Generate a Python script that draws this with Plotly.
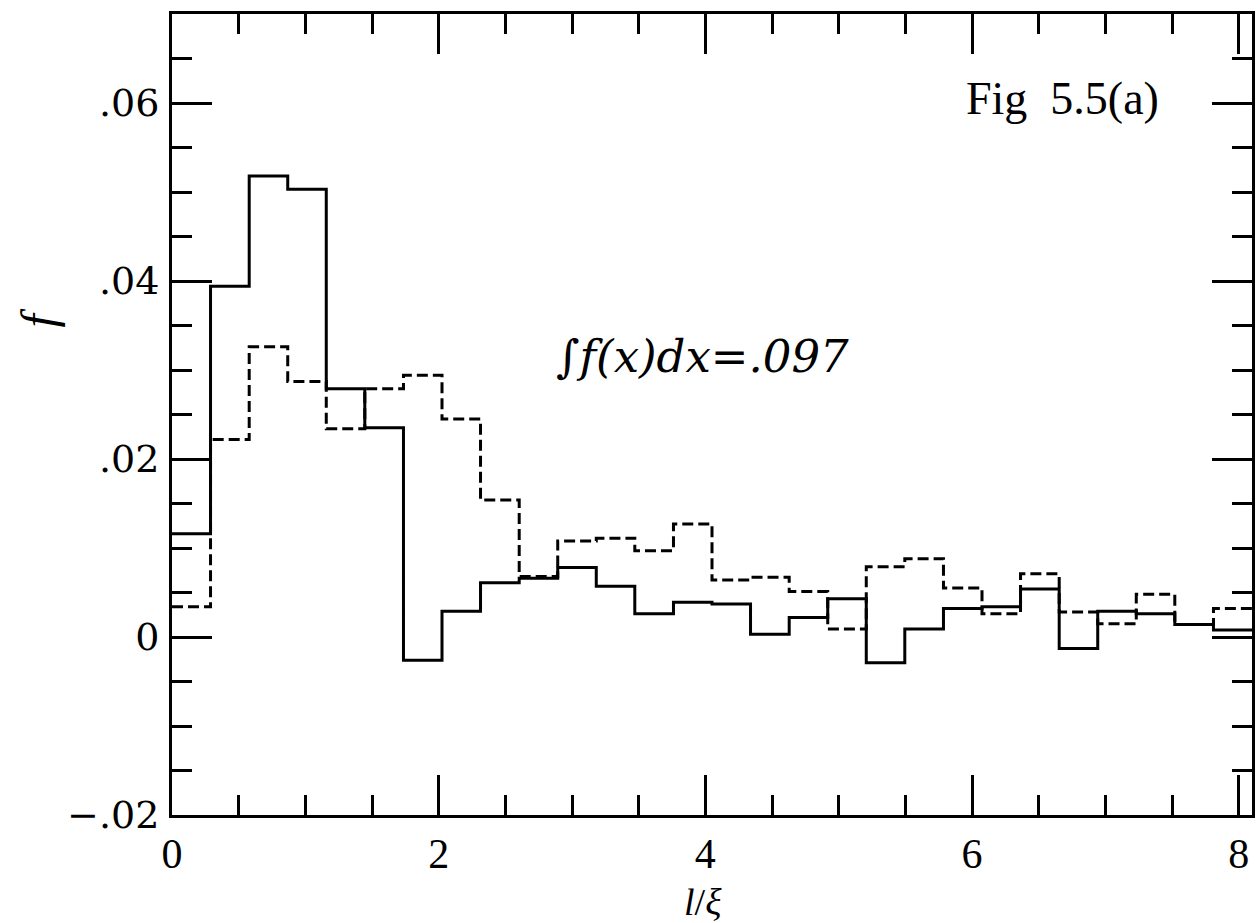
import plotly.graph_objects as go

# Bin edges in l/xi (28 bins)
bin_edges = [0.0, 0.289, 0.579, 0.868, 1.157, 1.446, 1.736, 2.025, 2.314, 2.604,
             2.893, 3.182, 3.471, 3.761, 4.050, 4.339, 4.629, 4.918, 5.207, 5.496,
             5.786, 6.075, 6.364, 6.654, 6.943, 7.232, 7.521, 7.811, 8.100]

# Solid histogram
solid_f = [0.0116, 0.0394, 0.0518, 0.0503, 0.0279, 0.0235, -0.0026, 0.0029, 0.0061, 0.0066,
           0.0078, 0.0057, 0.0026, 0.0039, 0.0037, 0.0003, 0.0022, 0.0043, -0.0029, 0.0009,
           0.0032, 0.0034, 0.0054, -0.0013, 0.0029, 0.0026, 0.0014, 0.0008]

# Dashed histogram
dashed_f = [0.0034, 0.0222, 0.0326, 0.0287, 0.0234, 0.0279, 0.0294, 0.0245, 0.0154, 0.0068,
            0.0108, 0.0111, 0.0097, 0.0127, 0.0064, 0.0067, 0.0051, 0.0009, 0.0079, 0.0088,
            0.0055, 0.0026, 0.0071, 0.0028, 0.0015, 0.0048, 0.0014, 0.0032]

x_tickvals = [0, 2, 4, 6, 8]
x_ticktext = ["0", "2", "4", "6", "8"]
y_tickvals = [-0.02, 0, 0.02, 0.04, 0.06]
y_ticktext = ["\u2212.02", "0", ".02", ".04", ".06"]

fig = go.Figure()
fig.add_trace(go.Scatter(
    x=bin_edges, y=dashed_f + [dashed_f[-1]], mode="lines", line_shape="hv",
    line=dict(color="black", width=3, dash="11px,5px"), showlegend=False))
fig.add_trace(go.Scatter(
    x=bin_edges, y=solid_f + [solid_f[-1]], mode="lines", line_shape="hv",
    line=dict(color="black", width=3), showlegend=False))

axis_common = dict(showline=True, linecolor="black", linewidth=3, mirror="ticks",
                   ticks="inside", tickcolor="black", tickwidth=2.5, ticklen=40,
                   showgrid=False, zeroline=False, automargin=False)

fig.update_xaxes(range=[0, 8.1], tickvals=x_tickvals, ticktext=x_ticktext,
                 tickfont=dict(family="Liberation Serif", size=42, color="black"),
                 ticklabelstandoff=0,
                 minor=dict(ticks="inside", dtick=0.5, tick0=0, ticklen=20,
                            tickwidth=2.5, tickcolor="black", showgrid=False),
                 **axis_common)
fig.update_yaxes(range=[-0.02, 0.07], tickvals=y_tickvals, ticktext=y_ticktext,
                 tickfont=dict(family="DejaVu Serif", size=38, color="black"),
                 ticklabelstandoff=2,
                 minor=dict(ticks="inside", dtick=0.005, tick0=0, ticklen=20,
                            tickwidth=2.5, tickcolor="black", showgrid=False),
                 **axis_common)

# axis titles placed as in the reference
fig.add_annotation(x=-0.124, y=0.0358, xref="paper", yref="y", text="<i>f</i>",
                   textangle=-90, showarrow=False, xanchor="center", yanchor="middle",
                   font=dict(family="Liberation Serif", size=48, color="black"))
fig.add_annotation(x=3.98, y=-0.109, xref="x", yref="paper", text="<i>l</i>/<i>\u03be</i>",
                   showarrow=False, xanchor="center", yanchor="middle",
                   font=dict(family="Liberation Serif", size=38, color="black"))
fig.add_annotation(x=6.68, y=0.0605, xref="x", yref="y", text="Fig  5.5(a)",
                   showarrow=False, xanchor="center", yanchor="middle",
                   font=dict(family="Liberation Serif", size=46, color="black"))
fig.add_annotation(x=3.98, y=0.0315, xref="x", yref="y",
                   text="<i>\u222bf(x)dx=.097</i>", xanchor="center", yanchor="middle",
                   showarrow=False, font=dict(family="DejaVu Serif", size=45, color="black"))

fig.update_layout(width=1256, height=923, plot_bgcolor="white", paper_bgcolor="white",
                  margin=dict(l=172, r=4, t=14, b=108), showlegend=False)

fig.write_html("out.html")
